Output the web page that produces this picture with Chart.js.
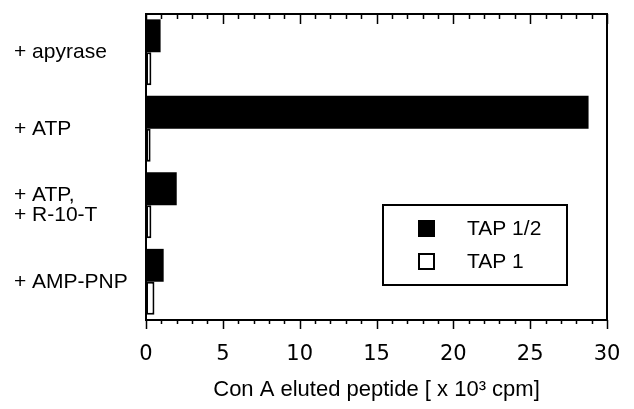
<!DOCTYPE html>
<html>
<head>
<meta charset="utf-8">
<script src="https://cdn.jsdelivr.net/npm/chart.js@4"></script>
<style>
html,body{margin:0;padding:0;background:#fff;}
#wrap{width:634px;height:409px;position:relative;}
</style>
</head>
<body>
<div id="wrap"><canvas id="c" width="634" height="409"></canvas></div>
<script>
const categories = [['+ apyrase'], ['+ ATP'], ['+ ATP,', '+ R-10-T'], ['+ AMP-PNP']];
const seriesNames = ['TAP 1/2', 'TAP 1'];
const tap12 = [0.95, 28.8, 2.0, 1.15];
const tap1 = [0.35, 0.3, 0.35, 0.55];
const xTickLabels = [0, 5, 10, 15, 20, 25, 30];
const xTitle = 'Con A eluted peptide [ x 10\u00B3 cpm]';

const labelFont = 'Liberation Sans, Arial, Helvetica, sans-serif';
const numFont = 'DejaVu Sans, sans-serif';

const framePlugin = {
  id: 'frame',
  afterDatasetsDraw(chart) {
    const ctx = chart.ctx;
    const a = chart.chartArea;
    const xs = chart.scales.x;
    ctx.save();
    ctx.strokeStyle = '#000';
    ctx.lineWidth = 2;
    ctx.strokeRect(a.left, a.top, a.right - a.left, a.bottom - a.top);
    ctx.lineWidth = 1.5;
    for (let v = xs.min; v <= xs.max; v += 1) {
      const px = Math.round(xs.getPixelForValue(v)) + 0.5;
      const major = (v % 5 === 0);
      ctx.beginPath();
      ctx.moveTo(px, a.bottom);
      ctx.lineTo(px, a.bottom + (major ? 9 : 4));
      ctx.moveTo(px, a.top);
      ctx.lineTo(px, a.top + (major ? 10 : 5));
      ctx.stroke();
    }
    ctx.restore();
  }
};

const legendPlugin = {
  id: 'boxLegend',
  afterDraw(chart) {
    const ctx = chart.ctx;
    const bx = 383, by = 205, bw = 184, bh = 80;
    ctx.save();
    ctx.fillStyle = '#fff';
    ctx.fillRect(bx, by, bw, bh);
    ctx.strokeStyle = '#000';
    ctx.lineWidth = 2;
    ctx.strokeRect(bx, by, bw, bh);
    ctx.font = '21px ' + labelFont;
    ctx.textBaseline = 'middle';
    ctx.textAlign = 'left';
    chart.data.datasets.forEach((ds, i) => {
      const cy = by + 24 + i * 33;
      ctx.fillStyle = ds.backgroundColor;
      ctx.fillRect(419, cy - 8, 15, 15);
      ctx.lineWidth = 2;
      ctx.strokeStyle = '#000';
      ctx.strokeRect(419, cy - 8, 15, 15);
      ctx.fillStyle = '#000';
      ctx.fillText(ds.label, 467, cy);
    });
    ctx.restore();
  }
};

new Chart(document.getElementById('c'), {
  type: 'bar',
  data: {
    labels: categories,
    datasets: [
      { label: seriesNames[0], data: tap12, backgroundColor: '#000', borderColor: '#000', borderWidth: 0 },
      { label: seriesNames[1], data: tap1, backgroundColor: '#fff', borderColor: '#000', borderWidth: 2, borderSkipped: false }
    ]
  },
  options: {
    indexAxis: 'y',
    responsive: false,
    animation: false,
    events: [],
    layout: { padding: { left: 14, right: 27, top: 14, bottom: 6 } },
    plugins: {
      legend: { display: false },
      tooltip: { enabled: false }
    },
    datasets: { bar: { categoryPercentage: 0.86, barPercentage: 1.0 } },
    scales: {
      x: {
        type: 'linear',
        min: 0, max: 30,
        afterBuildTicks(scale) { scale.ticks = xTickLabels.map(v => ({ value: v })); },
        afterFit(scale) { scale.paddingLeft = 0; scale.paddingRight = 0; scale.height = 83; },
        grid: { display: false, drawTicks: false },
        border: { display: false },
        ticks: { color: '#000', font: { family: numFont, size: 21 }, padding: 22, maxRotation: 0 },
        title: { display: true, text: xTitle, color: '#000', font: { family: labelFont, size: 22 }, padding: { top: 8, bottom: 0 } }
      },
      y: {
        type: 'category',
        grid: { display: false, drawTicks: false },
        border: { display: false },
        afterFit(scale) { scale.width = 132; scale.paddingTop = 0; scale.paddingBottom = 0; },
        ticks: { color: '#000', crossAlign: 'far', font: { family: labelFont, size: 21, lineHeight: 0.95 }, padding: 0 }
      }
    }
  },
  plugins: [framePlugin, legendPlugin]
});
</script>
</body>
</html>
